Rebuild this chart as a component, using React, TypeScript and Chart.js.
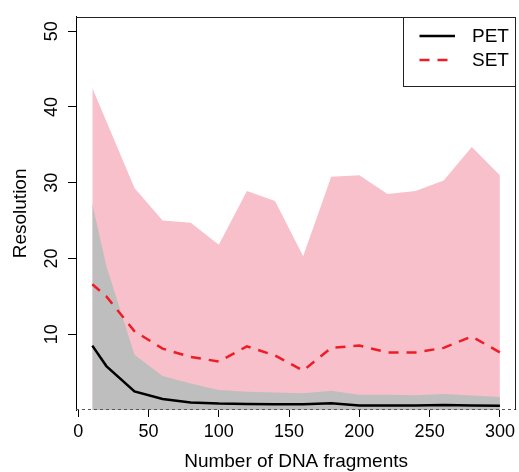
import React, { useEffect, useRef } from "react";
import { Chart, registerables } from "chart.js";

Chart.register(...registerables);

const fragments = [10, 20, 40, 60, 80, 100, 120, 140, 160, 180, 200, 220, 240, 260, 280, 300];
const setUpper = [42.5, 38.1, 29.3, 25.0, 24.7, 21.8, 28.9, 27.6, 20.3, 30.8, 31.0, 28.5, 28.9, 30.3, 34.7, 31.0];
const petUpper = [27.2, 19.0, 7.3, 4.5, 3.5, 2.65, 2.4, 2.3, 2.2, 2.55, 2.0, 2.0, 1.95, 2.1, 1.9, 1.7];
const setMedian = [16.6, 15.0, 10.4, 8.1, 7.0, 6.4, 8.4, 7.2, 5.2, 8.2, 8.5, 7.6, 7.6, 8.2, 9.7, 7.6];
const petMedian = [8.5, 5.8, 2.45, 1.45, 1.0, 0.85, 0.8, 0.75, 0.75, 0.9, 0.6, 0.6, 0.6, 0.65, 0.6, 0.55];
const xTickValues = [0, 50, 100, 150, 200, 250, 300];
const yTickValues = [10, 20, 30, 40, 50];
const legendLabels = ["PET", "SET"];
const xTitle = "Number of DNA fragments";
const yTitle = "Resolution";
const xLimits = [-1.6, 311.6];
const yLimits = [0, 51.9];

const FONT = "'Liberation Sans', Arial, Helvetica, sans-serif";

const boxAndLegend = {
  id: "boxAndLegend",
  afterDraw(chart: any) {
    const { ctx, chartArea } = chart;
    const { left, top, right, bottom } = chartArea;
    ctx.save();
    // zero line dashed
    const y0 = Math.round(chart.scales.y.getPixelForValue(0)) - 0.5;
    ctx.strokeStyle = "#555";
    ctx.lineWidth = 1;
    ctx.setLineDash([3, 3]);
    ctx.beginPath();
    ctx.moveTo(left, y0);
    ctx.lineTo(right, y0);
    ctx.stroke();
    ctx.setLineDash([]);
    // frame top/right
    ctx.strokeStyle = "#222";
    ctx.beginPath();
    ctx.moveTo(left, Math.round(top) + 0.5);
    ctx.lineTo(Math.round(right) - 0.5, Math.round(top) + 0.5);
    ctx.lineTo(Math.round(right) - 0.5, bottom);
    ctx.stroke();
    // legend
    const lx = 403.5;
    const ly = Math.round(top) + 0.5;
    const lw = Math.round(right) - 0.5 - lx;
    const lh = 69;
    ctx.fillStyle = "#fff";
    ctx.fillRect(lx, ly, lw, lh);
    ctx.strokeStyle = "#222";
    ctx.strokeRect(lx, ly, lw, lh);
    const styles = [
      { color: "#000", dash: [] as number[] },
      { color: "#ee1c25", dash: [10, 8] },
    ];
    const rows = [36, 60];
    ctx.font = `19px ${FONT}`;
    ctx.textBaseline = "middle";
    ctx.textAlign = "left";
    legendLabels.forEach((lab, i) => {
      ctx.strokeStyle = styles[i].color;
      ctx.lineWidth = 2.5;
      ctx.setLineDash(styles[i].dash);
      ctx.beginPath();
      ctx.moveTo(419.5, rows[i]);
      ctx.lineTo(455, rows[i]);
      ctx.stroke();
      ctx.setLineDash([]);
      ctx.fillStyle = "#000";
      ctx.fillText(lab, 472, rows[i] + 1);
    });
    ctx.restore();
  },
};

export default function App() {
  const ref = useRef<HTMLCanvasElement>(null);
  useEffect(() => {
    if (!ref.current) return;
    const pts = (ys: number[]) => fragments.map((x, i) => ({ x, y: ys[i] }));
    const chart = new Chart(ref.current, {
      type: "line",
      data: {
        datasets: [
          {
            label: "SET range",
            data: pts(setUpper),
            fill: "origin",
            backgroundColor: "#f8c0cb",
            borderWidth: 0,
            borderColor: "rgba(0,0,0,0)",
            pointRadius: 0,
            order: 5,
          },
          {
            label: "PET range",
            data: pts(petUpper),
            fill: "origin",
            backgroundColor: "#bebebe",
            borderWidth: 0,
            borderColor: "rgba(0,0,0,0)",
            pointRadius: 0,
            order: 4,
          },
          {
            label: legendLabels[1],
            data: pts(setMedian),
            fill: false,
            borderColor: "#ee1c25",
            borderWidth: 2.5,
            borderDash: [10, 8],
            pointRadius: 0,
            order: 2,
          },
          {
            label: legendLabels[0],
            data: pts(petMedian),
            fill: false,
            borderColor: "#000",
            borderWidth: 2.5,
            pointRadius: 0,
            order: 1,
          },
        ],
      },
      options: {
        responsive: false,
        animation: false,
        devicePixelRatio: 1,
        layout: { padding: { top: 14, right: 2, left: 0, bottom: 0 } },
        plugins: { legend: { display: false }, tooltip: { enabled: false } },
        scales: {
          x: {
            type: "linear",
            min: xLimits[0],
            max: xLimits[1],
            afterBuildTicks: (s: any) => {
              s.ticks = xTickValues.map((v) => ({ value: v }));
            },
            afterFit: (s: any) => {
              s.height = 62;
            },
            border: { display: false },
            grid: { drawOnChartArea: false, drawTicks: true, tickLength: 7, color: "#000" },
            ticks: {
              color: "#000",
              font: { family: FONT, size: 18 },
              padding: 4,
              maxRotation: 0,
              autoSkip: false,
            },
            title: {
              display: true,
              text: xTitle,
              color: "#000",
              font: { family: FONT, size: 19, lineHeight: 1 },
              padding: { top: 0, bottom: 1 },
            },
          },
          y: {
            type: "linear",
            min: yLimits[0],
            max: yLimits[1],
            afterBuildTicks: (s: any) => {
              s.ticks = yTickValues.map((v) => ({ value: v }));
            },
            afterFit: (s: any) => {
              s.width = 76;
            },
            border: { display: true, color: "#000", width: 1 },
            grid: { drawOnChartArea: false, drawTicks: true, tickLength: 8, color: "#000" },
            ticks: {
              color: "#000",
              font: { family: FONT, size: 18 },
              padding: 6,
              minRotation: 90,
              maxRotation: 90,
              crossAlign: "center",
              autoSkip: false,
            },
            title: {
              display: true,
              text: yTitle,
              color: "#000",
              font: { family: FONT, size: 19, lineHeight: 1 },
              padding: { top: 11, bottom: 0 },
            },
          },
        },
      } as any,
      plugins: [boxAndLegend],
    });
    return () => chart.destroy();
  }, []);
  return (
    <div style={{ position: "absolute", left: 0, top: 0, width: 519, height: 472 }}>
      <canvas ref={ref} width={519} height={472} />
    </div>
  );
}
